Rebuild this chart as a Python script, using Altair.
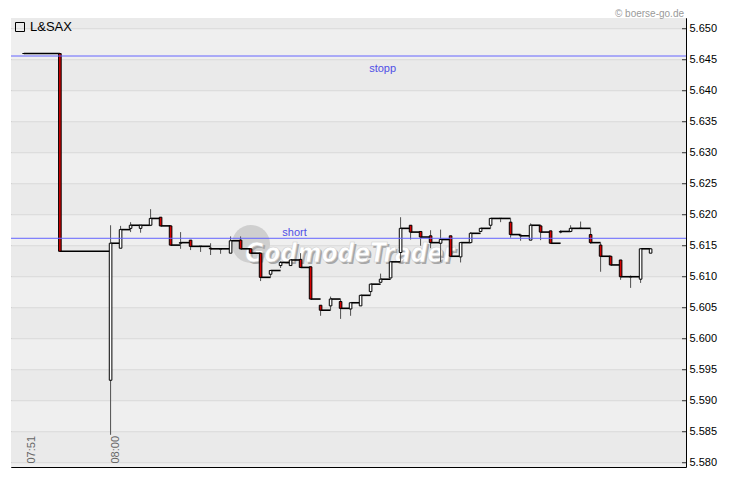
import altair as alt
import pandas as pd
import numpy as np

# ---------------- data ----------------
slots = [-8.67, -5.07] + list(range(55))
opens = [5.6460, 5.6460, 5.5933, 5.6146, 5.6178, 5.6178, 5.6183, 5.6196, 5.6182, 5.6154,
         5.6159, 5.6149, 5.6146, 5.6145, 5.6138, 5.6159, 5.6145, 5.6138, 5.6104, 5.6118,
         5.6118, 5.6128, 5.6116, 5.6054, 5.6053, 5.6060, 5.6048, 5.6053, 5.6076, 5.6091,
         5.6098, 5.6139, 5.6183, 5.6173, 5.6166, 5.6154, 5.6166, 5.6132, 5.6155, 5.6173,
         5.6183, 5.6194, 5.6188, 5.6167, 5.6159, 5.6182, 5.6174, 5.6172, 5.6173, 5.6178,
         5.6168, 5.6151, 5.6133, 5.6127, 5.6100, 5.6096, 5.6138]
highs = [5.6460, 5.6460, 5.6183, 5.6182, 5.6188, 5.6183, 5.6209, 5.6196, 5.6182, 5.6172,
         5.6159, 5.6149, 5.6154, 5.6145, 5.6165, 5.6165, 5.6145, 5.6138, 5.6110, 5.6125,
         5.6127, 5.6138, 5.6116, 5.6054, 5.6068, 5.6064, 5.6058, 5.6070, 5.6088, 5.6105,
         5.6124, 5.6196, 5.6183, 5.6173, 5.6175, 5.6176, 5.6166, 5.6155, 5.6172, 5.6178,
         5.6194, 5.6194, 5.6194, 5.6167, 5.6186, 5.6182, 5.6174, 5.6175, 5.6183, 5.6189,
         5.6178, 5.6155, 5.6133, 5.6127, 5.6102, 5.6145, 5.6145]
lows = [5.6460, 5.6141, 5.5845, 5.6146, 5.6172, 5.6171, 5.6183, 5.6182, 5.6151, 5.6145,
        5.6143, 5.6140, 5.6135, 5.6137, 5.6138, 5.6145, 5.6138, 5.6093, 5.6099, 5.6114,
        5.6118, 5.6115, 5.6064, 5.6037, 5.6046, 5.6032, 5.6037, 5.6053, 5.6070, 5.6091,
        5.6098, 5.6124, 5.6160, 5.6150, 5.6146, 5.6124, 5.6133, 5.6123, 5.6155, 5.6173,
        5.6178, 5.6188, 5.6163, 5.6158, 5.6159, 5.6159, 5.6154, 5.6170, 5.6173, 5.6178,
        5.6153, 5.6108, 5.6119, 5.6095, 5.6082, 5.6090, 5.6138]
closes = [5.6460, 5.6141, 5.6154, 5.6176, 5.6183, 5.6183, 5.6194, 5.6182, 5.6151, 5.6155,
          5.6149, 5.6149, 5.6145, 5.6145, 5.6158, 5.6145, 5.6138, 5.6099, 5.6110, 5.6123,
          5.6127, 5.6115, 5.6064, 5.6046, 5.6064, 5.6049, 5.6058, 5.6070, 5.6088, 5.6096,
          5.6124, 5.6178, 5.6172, 5.6164, 5.6155, 5.6160, 5.6133, 5.6155, 5.6170, 5.6178,
          5.6194, 5.6194, 5.6168, 5.6166, 5.6183, 5.6172, 5.6154, 5.6173, 5.6178, 5.6178,
          5.6155, 5.6133, 5.6119, 5.6100, 5.6100, 5.6145, 5.6145]

y_ticks = [5.580, 5.585, 5.590, 5.595, 5.600, 5.605, 5.610, 5.615,
           5.620, 5.625, 5.630, 5.635, 5.640, 5.645, 5.650]
x_tick_slots = [-8.51, -0.15]
x_tick_labels = ["07:51", "08:00"]

level_names = ["stopp", "short"]
level_prices = [5.6456, 5.6162]
level_label_slots = [27.2, 18.4]

# ---------------- tables ----------------
df = pd.DataFrame({"slot": slots, "open": opens, "high": highs, "low": lows, "close": closes})
df["next_slot"] = df["slot"].shift(-1)
df["fill"] = np.where(df["close"] > df["open"], "#ffffff",
                      np.where(df["close"] < df["open"], "#d80000", "#000000"))
seg = df.dropna(subset=["next_slot"])

band_lo = [5.575] + y_ticks
bands = pd.DataFrame({"lo": band_lo, "hi": [v + 0.005 for v in band_lo]})
bands["col"] = ["#efefef" if round((5.645 - v) / 0.005) % 2 == 0 else "#eaeaea" for v in band_lo]

ticks = pd.DataFrame({"v": y_ticks})
levels = pd.DataFrame({"name": level_names, "price": level_prices, "slot": level_label_slots})
one = pd.DataFrame({"k": [0]})

xs = alt.Scale(domain=[-9.458, 57.04], nice=False, zero=False)
ys = alt.Scale(domain=[5.57931, 5.65173], nice=False, zero=False)

label_expr = " : ".join(
    f"abs(datum.value - ({s})) < 0.01 ? '{t}'" for s, t in zip(x_tick_slots, x_tick_labels)
) + " : ''"

FONT = "Liberation Sans"
WM_FONT = "'Liberation Sans Narrow', 'DejaVu Sans Condensed', 'Liberation Sans', sans-serif"

YAXIS = alt.Axis(
    orient="right", values=y_ticks, format=".3f", ticks=False, domain=False, grid=False,
    labelPadding=3, labelFontSize=11, labelColor="#000000", labelFont=FONT, title=None)
XAXIS = alt.Axis(
    orient="bottom", values=x_tick_slots, labelExpr=label_expr, labelAngle=270,
    labelAlign="left", labelBaseline="top", labelPadding=-4, ticks=False, domain=False,
    grid=False, labelFlush=False, labelOverlap=False, labelBound=False, zindex=1,
    labelColor="#666666", labelFontSize=11, labelFont=FONT, title=None)


def X(f):
    return alt.X(f, scale=xs, axis=XAXIS)


def Y(f):
    return alt.Y(f, scale=ys, axis=YAXIS)


band_layer = alt.Chart(bands).mark_rect(clip=True).encode(
    y=Y("lo:Q"), y2="hi:Q", fill=alt.Fill("col:N", scale=None),
)

grid_layer = alt.Chart(ticks).mark_rule(color="#d9d9d9", strokeWidth=1).encode(y=Y("v:Q"))

tick_layer = alt.Chart(ticks).mark_rule(color="#333333", strokeWidth=1).encode(
    y=Y("v:Q"), x=alt.value(671), x2=alt.value(675),
)

wm_circle = alt.Chart(one).mark_point(
    shape="circle", filled=True, size=1450, color="#cfcfcf", opacity=1
).encode(x=alt.value(240), y=alt.value(226))
wm_shadow = alt.Chart(one).mark_text(
    text="GodmodeTrader", font=WM_FONT, fontSize=26, fontWeight="bold",
    fontStyle="italic", align="left", baseline="alphabetic", color="#a8a8a8", dx=2, dy=2
).encode(x=alt.value(234), y=alt.value(244))
wm_text = alt.Chart(one).mark_text(
    text="GodmodeTrader", font=WM_FONT, fontSize=26, fontWeight="bold",
    fontStyle="italic", align="left", baseline="alphabetic", color="#ffffff",
    stroke="#d0d0d0", strokeWidth=0.6
).encode(x=alt.value(234), y=alt.value(244))

seg_layer = alt.Chart(seg).mark_rule(color="#000000", strokeWidth=1.6).encode(
    x=X("slot:Q"), x2="next_slot:Q", y=Y("close:Q"),
)

wick_layer = alt.Chart(df).mark_rule(color="#505050", strokeWidth=1).encode(
    x=X("slot:Q"), y=Y("low:Q"), y2="high:Q",
)

body_layer = alt.Chart(df).mark_bar(size=2.6, stroke="#000000", strokeWidth=1).encode(
    x=X("slot:Q"), y=Y("open:Q"), y2="close:Q",
    fill=alt.Fill("fill:N", scale=None),
)

level_lines = alt.Chart(levels).mark_rule(color="#6464ff", strokeWidth=1).encode(y=Y("price:Q"))
stopp_text = alt.Chart(levels).transform_filter("datum.name == 'stopp'").mark_text(
    font=FONT, fontSize=11, color="#5050e6", dy=13, align="center", baseline="middle"
).encode(x=X("slot:Q"), y=Y("price:Q"), text="name:N")
short_text = alt.Chart(levels).transform_filter("datum.name == 'short'").mark_text(
    font=FONT, fontSize=11, color="#5050e6", dy=-5.5, align="center", baseline="middle"
).encode(x=X("slot:Q"), y=Y("price:Q"), text="name:N")

legend_box = alt.Chart(one).mark_point(
    shape="square", filled=False, size=81, color="#000000", strokeWidth=1, opacity=1
).encode(x=alt.value(9), y=alt.value(9))
legend_text = alt.Chart(one).mark_text(
    text="L&SAX", font=FONT, fontSize=13, align="left", baseline="middle", color="#000000"
).encode(x=alt.value(19), y=alt.value(9))
copyright_text = alt.Chart(one).mark_text(
    text="© boerse-go.de", font=FONT, fontSize=10, align="right", baseline="middle",
    color="#9a9a9a"
).encode(x=alt.value(673), y=alt.value(-4))

chart = alt.layer(
    band_layer, grid_layer, tick_layer, wm_circle, wm_shadow, wm_text,
    seg_layer, wick_layer, body_layer, level_lines, stopp_text, short_text,
    legend_box, legend_text, copyright_text,
).properties(
    width=675, height=449,
    padding={"left": 3, "top": 10, "right": 36, "bottom": 4},
    autosize=alt.AutoSizeParams(type="none"),
    background="#ffffff",
).configure_view(stroke="#000000", strokeWidth=1, fill="#eeeeee")

chart.save("out.html", embed_options={"renderer": "svg", "actions": False})
